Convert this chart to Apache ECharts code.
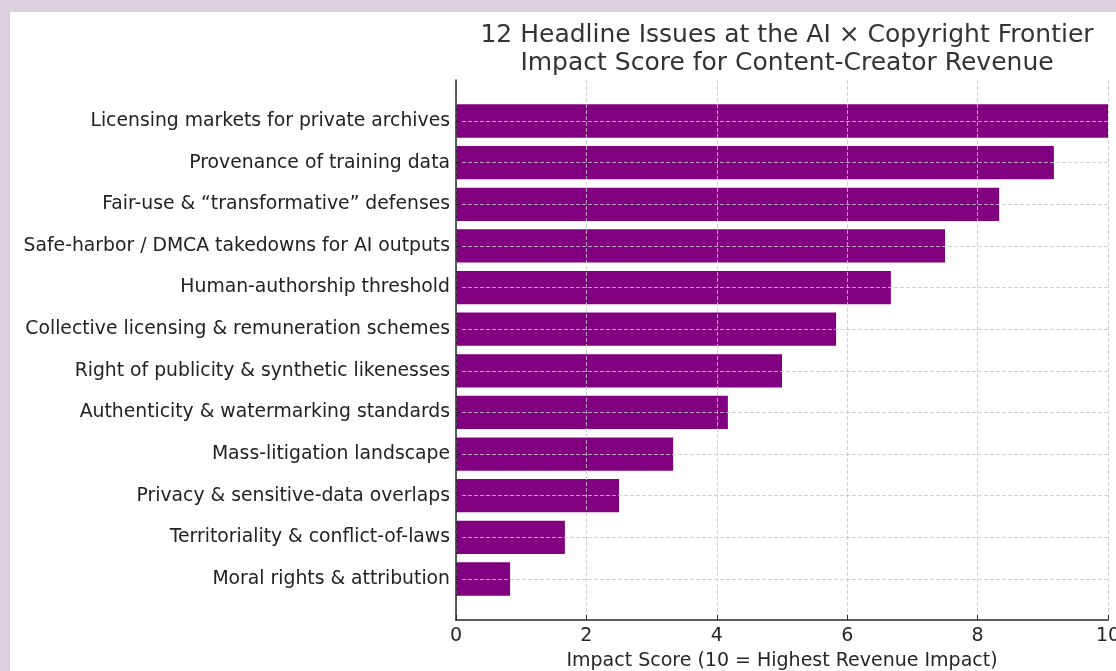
<!DOCTYPE html>
<html>
<head>
<meta charset="utf-8">
<script src="https://cdn.jsdelivr.net/npm/echarts@6/dist/echarts.min.js"></script>
<style>
html,body{margin:0;padding:0;width:1116px;height:671px;overflow:hidden;background:#dcd0de;}
#card{position:absolute;left:10px;top:12px;width:1106px;height:659px;background:#ffffff;}
</style>
</head>
<body>
<div id="card"></div>
<script>
const categories = [
  "Licensing markets for private archives",
  "Provenance of training data",
  "Fair-use & \u201ctransformative\u201d defenses",
  "Safe-harbor / DMCA takedowns for AI outputs",
  "Human-authorship threshold",
  "Collective licensing & remuneration schemes",
  "Right of publicity & synthetic likenesses",
  "Authenticity & watermarking standards",
  "Mass-litigation landscape",
  "Privacy & sensitive-data overlaps",
  "Territoriality & conflict-of-laws",
  "Moral rights & attribution"
];
const scores = [10.0, 9.17, 8.33, 7.5, 6.67, 5.83, 5.0, 4.17, 3.33, 2.5, 1.67, 0.83];
const titleText = "12 Headline Issues at the AI \u00d7 Copyright Frontier\nImpact Score for Content-Creator Revenue";
const xAxisName = "Impact Score (10 = Highest Revenue Impact)";

const FONT = "DejaVu Sans";
const chart = echarts.init(document.getElementById('card'), null, {renderer: 'canvas'});
const gridLine = {show: true, lineStyle: {color: '#c8c8c8', width: 0.8, type: [4, 2]}};
chart.setOption({
  animation: false,
  backgroundColor: '#ffffff',
  title: {
    text: titleText,
    left: 772, top: 4, textAlign: 'center',
    textStyle: {fontFamily: FONT, fontSize: 25, fontWeight: 'normal', color: '#333333', lineHeight: 28}
  },
  grid: [
    {left: 446, right: 8, top: 88.2, bottom: 71.2, outerBoundsMode: 'none', containLabel: false},
    {left: 446, right: 8, top: 68, bottom: 51, outerBoundsMode: 'none', containLabel: false}
  ],
  xAxis: [
    {gridIndex: 0, type: 'value', min: 0, max: 10, show: false},
    {gridIndex: 1, type: 'value', min: 0, max: 10, interval: 2, z: 10,
     name: xAxisName, nameLocation: 'middle', nameGap: 32,
     nameTextStyle: {fontFamily: FONT, fontSize: 19, color: '#262626'},
     axisLine: {show: true, lineStyle: {color: '#262626', width: 1.5}},
     axisTick: {show: true, inside: true, length: 5, lineStyle: {color: '#262626', width: 1}},
     axisLabel: {fontFamily: FONT, fontSize: 19, color: '#262626', margin: 7},
     splitLine: gridLine}
  ],
  yAxis: [
    {gridIndex: 0, type: 'category', data: categories, inverse: true, z: 10,
     axisLine: {show: false},
     axisTick: {show: true, inside: true, alignWithLabel: true, interval: 0, length: 4, lineStyle: {color: '#262626', width: 1}},
     axisLabel: {interval: 0, fontFamily: FONT, fontSize: 18.8, color: '#222222', margin: 6},
     splitLine: {show: true, interval: 0, alignWithLabel: true, lineStyle: {color: '#c8c8c8', width: 0.8, type: [4, 2]}}},
    {gridIndex: 1, type: 'value', min: 0, max: 1, z: 10,
     axisLine: {show: true, lineStyle: {color: '#262626', width: 1.5}},
     axisTick: {show: false}, axisLabel: {show: false}, splitLine: {show: false}}
  ],
  series: [{
    type: 'bar', xAxisIndex: 0, yAxisIndex: 0,
    data: scores, barWidth: '80%',
    itemStyle: {color: '#800080'},
    silent: true
  }]
});
</script>
</body>
</html>
